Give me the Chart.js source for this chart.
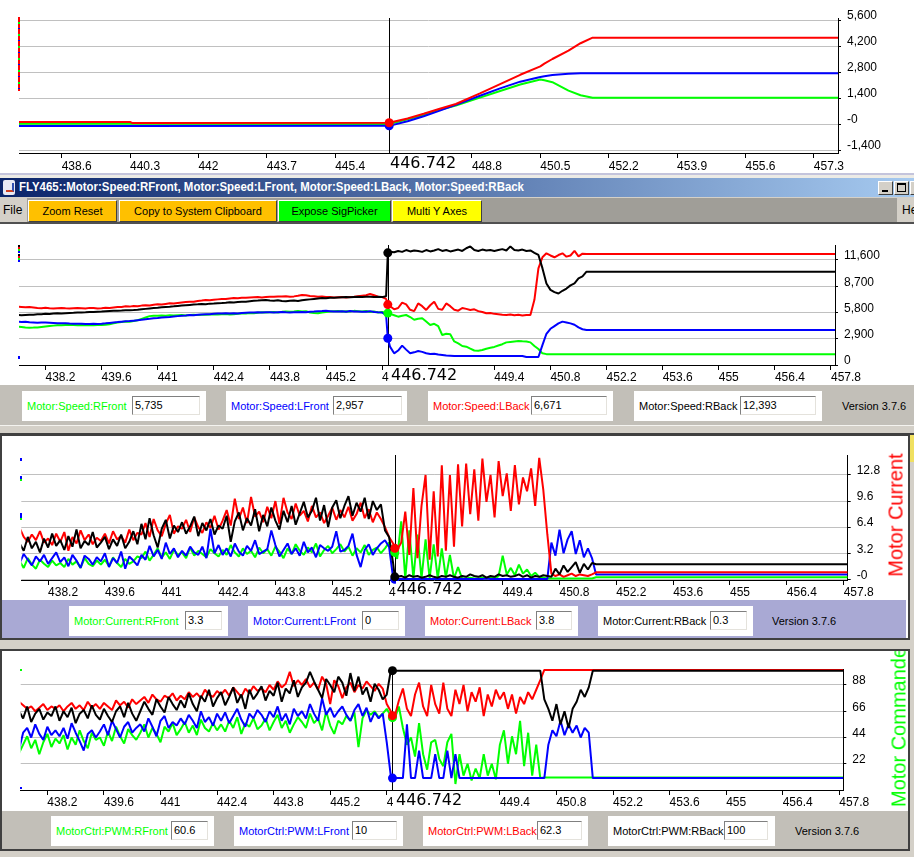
<!DOCTYPE html>
<html>
<head>
<meta charset="utf-8">
<title>FLY465 Motor</title>
<script src="https://cdn.jsdelivr.net/npm/chart.js@4.4.1/dist/chart.umd.min.js"></script>
<style>
  body { margin: 0; width: 914px; height: 857px; overflow: hidden; position: relative; background: #d4d0c8; font-family: "Liberation Sans", Arial, sans-serif; font-size: 11px; }
  .abs { position: absolute; }
  .panel { position: absolute; background: #fff; overflow: hidden; }
  .panel canvas { position: absolute; left: 0; top: 0; }
  .btn { position: absolute; top: 200px; height: 22px; box-sizing: border-box; border: 1px solid; border-color: #fff #404040 #404040 #fff; text-align: center; line-height: 20px; color: #000; white-space: nowrap; }
  .field { position: absolute; background: #fff; height: 30px; }
  .field .lbl { position: absolute; top: 0; line-height: 30px; white-space: nowrap; }
  .field .val { position: absolute; top: 5px; height: 19px; box-sizing: border-box; border: 1px solid; border-color: #808080 #e4e2dc #e4e2dc #808080; background: #fff; padding-left: 2px; line-height: 17px; color: #000; }
  .version { position: absolute; color: #000; white-space: nowrap; line-height: 14px; }
  .vtitle { position: absolute; font-size: 20px; white-space: nowrap; transform: translate(-50%, -50%) rotate(-90deg); }
  .winbtn { position: absolute; top: 181px; width: 15px; height: 14px; box-sizing: border-box; background: #d4d0c8; border: 1px solid; border-color: #fff #404040 #404040 #fff; }
  .mark { position: absolute; width: 2px; }
</style>
</head>
<body>

<!-- top chart -->
<div class="panel" style="left:0;top:0;width:914px;height:173px;"><canvas id="topChart" width="914" height="173"></canvas></div>
<div class="mark" style="left:18px;top:17px;height:74px;background:repeating-linear-gradient(#ff0000 0 5px,#00ff00 5px 7px,#ff0000 7px 11px,#0000ff 11px 12px);"></div>
<div class="abs" style="left:0;top:173px;width:914px;height:2px;background:#c4c4dc;"></div>
<div class="abs" style="left:0;top:175px;width:914px;height:3px;background:#ecebe6;"></div>

<!-- window title -->
<div class="abs" style="left:0;top:178px;width:914px;height:19px;background:linear-gradient(to right,#0a246a,#a6caf0);"></div>
<div class="abs" style="left:3px;top:180px;width:12px;height:15px;background:#e8eaf4;border-radius:2px;"></div>
<div class="abs" style="left:6px;top:183px;width:6px;height:7px;border-bottom:2px solid #d04020;border-right:2px solid #3050b0;"></div>
<div class="abs" id="winTitle" style="left:19px;top:180px;color:#fff;font-weight:bold;font-size:12px;line-height:15px;white-space:nowrap;transform-origin:left top;"></div>
<div class="winbtn" style="left:878px;"><div class="abs" style="left:3px;top:8px;width:6px;height:2px;background:#000;"></div></div>
<div class="winbtn" style="left:894px;"><div class="abs" style="left:2px;top:1px;width:7px;height:6px;border:1px solid #000;border-top-width:2px;"></div></div>
<div class="winbtn" style="left:910px;"></div>
<div class="abs" style="left:0;top:197px;width:914px;height:1px;background:#d4d0c8;"></div>

<!-- toolbar -->
<div class="abs" style="left:0;top:198px;width:914px;height:24px;background:#a09e98;"></div>
<div class="abs" style="left:0;top:198px;width:27px;height:24px;background:#d4d0c8;"></div>
<div class="abs" style="left:3px;top:203px;line-height:14px;font-size:12px;">File</div>
<div class="abs" style="left:897px;top:198px;width:17px;height:24px;background:#d4d0c8;"></div>
<div class="abs" style="left:902px;top:203px;line-height:14px;font-size:12px;">He</div>
<div id="toolbar"></div>
<div class="abs" style="left:0;top:222px;width:914px;height:2px;background:#505050;"></div>

<!-- speed chart -->
<div class="panel" style="left:0;top:224px;width:914px;height:161px;"><canvas id="speedChart" width="914" height="161"></canvas></div>
<div class="mark" style="left:18px;top:245px;height:17px;background:repeating-linear-gradient(#000 0 2px,#ff0000 2px 4px,#00ff00 4px 6px,#0000ff 6px 8px,#fff 8px 9px);"></div>
<div class="mark" style="left:18px;top:356px;height:3px;background:#0000ff;"></div>
<div class="abs" style="left:0;top:385px;width:914px;height:40px;background:#c2bfb8;"></div>
<div class="abs" style="left:0;top:425px;width:914px;height:1px;background:#f4f3ef;"></div>
<div class="abs" style="left:0;top:433px;width:914px;height:2px;background:#404040;"></div>

<!-- current chart -->
<div class="abs" style="left:0;top:435px;width:910px;height:205px;background:#404040;"></div>
<div class="panel" style="left:2px;top:436px;width:906px;height:164px;"><canvas id="currentChart" width="906" height="164"></canvas></div>
<div class="mark" style="left:20px;top:458px;height:3px;background:#0000ff;"></div>
<div class="mark" style="left:20px;top:476px;height:5px;background:linear-gradient(#0000ff 0 3px,#00ff00 3px 5px);"></div>
<div class="mark" style="left:20px;top:513px;height:7px;background:linear-gradient(#0000ff 0 5px,#00ff00 5px 7px);"></div>
<div class="abs" style="left:2px;top:600px;width:906px;height:38px;background:#fff;"></div>
<div class="abs" style="left:2px;top:600px;width:904px;height:38px;background:#a9a9d4;"></div>
<div class="abs" style="left:910px;top:435px;width:4px;height:27px;background:#f0e060;"></div>
<div class="vtitle" style="left:896px;top:515px;color:#ff0000;">Motor Current</div>

<!-- pwm chart -->
<div class="abs" style="left:0;top:649px;width:910px;height:202px;background:#404040;"></div>
<div class="panel" style="left:2px;top:651px;width:906px;height:160px;"><canvas id="pwmChart" width="906" height="160"></canvas>
  <div class="vtitle" style="left:897px;top:76px;color:#00ff00;">Motor Commande</div>
</div>
<div class="mark" style="left:20px;top:669px;height:2px;background:#00ff00;"></div>
<div class="mark" style="left:20px;top:787px;height:2px;background:#0000ff;"></div>
<div class="abs" style="left:2px;top:811px;width:906px;height:38px;background:#c2bfb8;"></div>

<div id="fields"></div>

<script>
// ===== Shared =====
const cursorTime = 446.742;
const endTime = 457.9;
const xMin = 437.54;
const xMax = 457.9;
const sampleStart = 437.5;   // first logged sample
const sampleStep = 0.1;      // logger sample period

const xTicksTop = [438.6, 440.3, 442, 443.7, 445.4, 447.1, 448.8, 450.5, 452.2, 453.9, 455.6, 457.3];
const xTicksLower = [438.2, 439.6, 441, 442.4, 443.8, 445.2, 446.6, 448, 449.4, 450.8, 452.2, 453.6, 455, 456.4, 457.8];

const seriesColors = ['#00ff00', '#0000ff', '#ff0000', '#000000']; // RFront, LFront, LBack, RBack

// ===== Top chart =====
const topTimes = [437.5, 440.3, 440.35, 446.742, 447.2, 447.6, 448.0, 448.4, 449.0, 449.5, 450.0, 450.5, 450.6, 450.8, 451.2, 451.5, 451.8, 457.9];
const topRed   = [110, 110, 60, 70, 300, 550, 820, 1077, 1650, 2150, 2650, 3100, 3250, 3500, 3950, 4350, 4650, 4650];
const topBlue  = [-110, -110, -110, -100, 150, 420, 720, 1030, 1520, 1920, 2280, 2530, 2570, 2640, 2700, 2730, 2730, 2730];
const topGreen = [10, 10, 10, 0, 250, 480, 760, 1000, 1420, 1780, 2130, 2400, 2360, 2250, 1800, 1550, 1415, 1415];
const topCursor = [0, -100, 70]; // green, blue, red
const topYTicks = [-1400, 0, 1400, 2800, 4200, 5600];
const topYLabels = ['-1,400', '-0', '1,400', '2,800', '4,200', '5,600'];

// ===== Motor speed =====
const speedNames = ['Motor:Speed:RFront', 'Motor:Speed:LFront', 'Motor:Speed:LBack', 'Motor:Speed:RBack'];
const speedCursor = [5735, 2957, 6671, 12393];
const speedYTicks = [0, 2900, 5800, 8700, 11600];
const speedYLabels = ['0', '2,900', '5,800', '8,700', '11,600'];
const speedRFront = [
  4235, 4200, 4150, 4125, 4130, 4150, 4200, 4250, 4300, 4350,
  4380, 4400, 4420, 4410, 4430, 4400, 4420, 4380, 4420, 4400,
  4420, 4430, 4450, 4500, 4600, 4700, 4750, 4800, 4790, 4850,
  4950, 5100, 5250, 5400, 5450, 5430, 5470, 5450, 5500, 5480,
  5500, 5520, 5480, 5525, 5550, 5520, 5560, 5540, 5580, 5600,
  5580, 5600, 5620, 5580, 5600, 5650, 5680, 5700, 5750, 5720,
  5780, 5820, 5800, 5830, 5850, 5800, 5870, 5900, 5880, 5920,
  5970, 5900, 5950, 5800, 5750, 5710, 5800, 5850, 5900, 5950,
  5970, 5900, 5950, 5920, 5980, 5950, 5900, 5970, 5850, 5900,
  5800, 5850, 5750, 5650, 5500, 5340, 5450, 5525, 5300, 5000,
  5100, 5160, 4800, 4420, 4550, 4300, 3315, 3450, 3400, 2600,
  2390, 2100, 2025, 1800, 1600, 1585, 1650, 1800, 1915, 2000,
  2150, 2300, 2500, 2550, 2600, 2650, 2620, 2600, 2500, 2100,
  1770, 1290, 1200, 1180, 1180, 1180, 1180, 1180, 1180, 1180,
  1180, 1180, 1180, 1180
];
const speedLFront = [
  4790, 4750, 4780, 4720, 4700, 4680, 4700, 4690, 4680, 4650,
  4620, 4600, 4610, 4580, 4560, 4550, 4570, 4540, 4530, 4550,
  4530, 4560, 4600, 4650, 4700, 4740, 4790, 4820, 4850, 4900,
  4950, 5000, 5050, 5100, 5160, 5200, 5250, 5280, 5300, 5350,
  5400, 5450, 5480, 5525, 5500, 5550, 5580, 5600, 5620, 5650,
  5680, 5700, 5710, 5690, 5720, 5700, 5750, 5780, 5800, 5790,
  5820, 5800, 5840, 5820, 5800, 5830, 5860, 5820, 5800, 5820,
  5820, 5850, 5830, 5870, 5900, 5950, 5970, 6000, 5950, 5900,
  5920, 5950, 5890, 5970, 5920, 5900, 5880, 5890, 5950, 5850,
  5820, 5800, 5500, 2000, 1290, 1600, 2137, 1700, 1290, 1400,
  1547, 1450, 1300, 1215, 1250, 1150, 1100, 1050, 1032, 995,
  995, 995, 995, 995, 995, 995, 995, 995, 995, 995,
  995, 995, 995, 995, 995, 995, 990, 885, 885, 885,
  885, 2200, 3450, 4000, 4300, 4600, 4790, 4700, 4600, 4450,
  4150, 3950, 3870, 3870
];
const speedLBack = [
  6450, 6420, 6380, 6400, 6350, 6300, 6280, 6320, 6260, 6250,
  6280, 6300, 6260, 6230, 6270, 6300, 6280, 6250, 6310, 6290,
  6250, 6280, 6320, 6300, 6350, 6400, 6420, 6480, 6450, 6520,
  6500, 6560, 6600, 6580, 6650, 6700, 6680, 6750, 6820, 6800,
  6850, 6900, 6950, 7000, 6980, 7080, 7120, 7180, 7150, 7200,
  7250, 7300, 7280, 7350, 7400, 7380, 7440, 7420, 7450, 7480,
  7500, 7470, 7520, 7550, 7530, 7580, 7560, 7600, 7550, 7580,
  7650, 7730, 7700, 7620, 7600, 7550, 7580, 7520, 7500, 7450,
  7480, 7500, 7460, 7520, 7550, 7600, 7650, 7700, 7840, 7700,
  7550, 7500, 7300, 6500, 6150, 6300, 6900, 6700, 6100, 5950,
  6800, 6500, 6080, 6600, 6990, 6200, 6100, 6800, 6500, 6100,
  6000, 6300, 6200, 6080, 6150, 5950, 5850, 5710, 5750, 5650,
  5600, 5550, 5520, 5580, 5500, 5550, 5480, 5530, 5520, 7200,
  10680, 11900, 12340, 12100, 11900, 12150, 12340, 11970, 12100, 12600,
  12000, 12300, 12265, 12265
];
const speedRBack = [
  5525, 5500, 5520, 5540, 5560, 5600, 5620, 5650, 5640, 5680,
  5710, 5700, 5730, 5750, 5760, 5790, 5800, 5820, 5850, 5860,
  5893, 5900, 5930, 5960, 5980, 6000, 6020, 6050, 6060, 6077,
  6100, 6150, 6200, 6250, 6300, 6330, 6380, 6420, 6445, 6480,
  6520, 6560, 6600, 6640, 6680, 6700, 6740, 6720, 6780, 6800,
  6830, 6850, 6880, 6925, 6900, 6950, 6980, 7000, 7050, 7100,
  7120, 7150, 7180, 7130, 7100, 7150, 7080, 7050, 7100, 7120,
  7070, 7150, 7200, 7250, 7300, 7350, 7400, 7380, 7440, 7420,
  7450, 7480, 7500, 7480, 7520, 7550, 7500, 7540, 7550, 7520,
  7550, 7500, 7600, 12500, 12450, 12600, 12500, 12700, 12550, 12650,
  12600, 12500, 12700, 12550, 12650, 12800, 12600, 12700, 12550, 12650,
  12750, 12600, 12900, 13100, 12700, 12600, 12750, 12650, 12700, 12600,
  12700, 12800, 12650, 13100, 12700, 12650, 12750, 12600, 12650, 12400,
  12155, 10700, 9000, 8300, 8050, 7900, 8200, 8450, 8800, 9020,
  9580, 9800, 10310, 10310
];

// ===== Motor current =====
const currentNames = ['Motor:Current:RFront', 'Motor:Current:LFront', 'Motor:Current:LBack', 'Motor:Current:RBack'];
const currentCursor = [3.3, 0, 3.8, 0.3];
const currentYTicks = [0, 3.2, 6.4, 9.6, 12.8];
const currentYLabels = ['-0', '3.2', '6.4', '9.6', '12.8'];
const currentRFront = [
  2.2, 1.4, 2.6, 1.8, 1.3, 2.4, 1.9, 1.5, 2.3, 1.7,
  2.0, 1.5, 2.5, 1.8, 2.2, 1.4, 2.6, 1.9, 1.6, 2.3,
  1.8, 2.4, 1.6, 2.7, 2.0, 1.5, 2.5, 1.9, 2.2, 2.8,
  2.6, 3.4, 2.3, 3.0, 3.8, 2.7, 3.3, 2.5, 3.6, 3.0,
  3.3, 2.6, 3.9, 2.9, 3.5, 3.1, 2.7, 3.7, 3.2, 2.8,
  3.6, 3.0, 4.2, 3.3, 2.8, 3.8, 3.1, 3.5, 2.7, 3.9,
  3.2, 3.7, 2.9, 4.0, 3.4, 2.6, 3.8, 3.1, 4.3, 3.5,
  3.0, 3.9, 3.3, 4.4, 2.8, 3.6, 4.1, 3.2, 3.7, 4.3,
  3.4, 4.0, 2.9, 3.8, 3.3, 4.2, 3.0, 3.6, 3.9, 3.2,
  3.8, 4.5, 3.5, 2.5, 7.1, 0.1, 6.0, 0.1, 5.5, 0.1,
  4.9, 0.1, 4.3, 0.1, 3.8, 0.2, 3.0, 0.1, 1.5, 0.1,
  0.1, 0.2, 0.1, 0.1, 0.2, 0.1, 0.3, 0.1, 0.4, 2.9,
  0.6, 1.4, 0.5, 1.8, 0.7, 1.2, 0.4, 0.8, 0.3, 0.2,
  0.1, 0.1, 0.1, 0.1, 0.1, 0.1, 0.1, 0.1, 0.1, 0.1,
  0.1, 0.1, 0.25, 0.25
];
const currentLFront = [
  2.0, 3.1, 2.4, 1.7, 2.8, 2.2, 3.0, 1.9, 2.6, 3.3,
  2.1, 2.7, 1.6, 3.0, 2.3, 1.4, 2.9, 2.5, 1.8, 2.7,
  2.2, 3.2, 1.5, 2.6, 2.0, 3.4, 1.3, 2.8, 2.3, 1.7,
  3.0, 2.4, 4.1, 2.8, 3.6, 2.5, 4.5, 3.1, 3.8, 2.7,
  3.5, 2.9, 4.0, 3.3, 3.0, 4.0, 2.6, 6.2, 3.2, 4.2,
  3.0, 3.8, 2.8, 4.4, 3.4, 2.9, 4.1, 3.5, 4.8, 3.1,
  3.4, 3.7, 6.0, 4.2, 2.8, 3.6, 4.4, 3.1, 3.8, 2.9,
  4.6, 3.3, 3.9, 2.7, 4.2, 3.8, 3.5, 4.0, 5.9, 3.4,
  3.6, 4.1, 5.6, 3.0, 1.5, 3.6, 4.3, 3.0, 3.8, 4.4,
  4.8, 4.0, 0.2, 0.05, 0.05, 0.05, 0.05, 0.05, 0.05, 0.05,
  0.05, 0.05, 0.05, 0.05, 0.05, 0.05, 0.05, 0.05, 0.05, 0.05,
  0.05, 0.05, 0.05, 0.05, 0.05, 0.1, 0.05, 0.05, 0.05, 0.05,
  0.05, 0.05, 0.05, 0.05, 0.05, 0.05, 0.05, 0.05, 0.05, 0.05,
  0.05, 4.5, 2.9, 6.1, 3.2, 4.9, 5.9, 3.1, 4.8, 2.7,
  3.8, 2.6, 0.6, 0.6
];
const currentLBack = [
  6.3, 5.2, 4.6, 5.5, 4.8, 5.9, 4.5, 5.0, 4.2, 5.6,
  4.6, 5.8, 3.5, 5.2, 4.4, 6.0, 4.8, 5.5, 4.3, 5.1,
  4.7, 5.6, 4.4, 5.9, 4.9, 5.3, 4.5, 6.1, 4.8, 5.7,
  5.5, 6.9, 5.2, 7.4, 6.0, 5.3, 6.8, 7.9, 5.6, 6.5,
  6.2, 7.3, 5.8, 7.6, 6.4, 5.7, 7.0, 6.3, 7.8, 6.1,
  7.2, 8.5, 6.6, 9.9, 7.4, 8.8, 6.9, 10.1, 7.7, 8.3,
  7.0, 8.9, 7.5, 9.6, 6.8, 10.0, 8.2, 7.4, 9.3, 7.8,
  8.4, 7.1, 9.0, 7.6, 8.2, 6.9, 7.8, 8.8, 7.3, 8.5,
  7.6, 8.9, 7.2, 8.0, 9.4, 7.5, 8.6, 7.0, 8.2, 7.4,
  6.4, 5.2, 4.4, 3.6, 4.5, 8.3, 3.0, 11.2, 2.6, 9.0,
  12.8, 2.4, 10.8, 2.8, 14.0, 3.5, 12.8, 4.0, 14.1, 6.5,
  14.2, 8.0, 13.5, 7.2, 14.8, 9.5, 12.8, 7.6, 14.5, 10.2,
  13.0, 8.4, 14.0, 9.2, 12.5, 10.8, 13.6, 9.0, 14.9, 11.0,
  5.5, 0.7, 0.4, 0.6, 0.3, 0.5, 0.7, 0.4, 0.6, 0.5,
  0.4, 0.6, 0.86, 0.86
];
const currentRBack = [
  4.4, 3.5, 5.2, 3.8, 4.6, 3.3, 5.0, 3.9, 5.6, 4.1,
  4.8, 3.6, 5.3, 4.0, 6.1, 3.8, 4.7, 4.2, 5.8, 3.9,
  4.5, 5.2, 3.7, 4.9, 4.1, 5.5, 3.8, 4.6, 5.9, 4.3,
  6.8, 4.9, 7.5, 5.4, 3.9, 6.2, 7.3, 5.0, 6.6, 5.8,
  7.0, 5.6, 6.5, 7.7, 5.3, 6.9, 6.0, 7.4, 5.5, 6.6,
  6.2, 7.8, 4.6, 7.1, 8.2, 6.0, 7.5, 6.6, 8.6, 5.9,
  7.9, 6.5, 8.8, 7.2, 6.1, 8.4, 7.0, 9.0, 6.7, 8.1,
  9.5, 7.6, 8.4, 10.0, 7.2, 9.1, 6.4, 8.8, 9.7, 7.5,
  9.0, 10.2, 7.8, 9.4, 8.3, 10.0, 7.4, 9.6, 8.5, 9.2,
  6.0, 5.2, 2.0, 0.3, 0.4, 0.2, 0.5, 0.3, 0.4, 0.2,
  0.3, 0.5, 0.3, 0.2, 0.4, 0.3, 0.5, 0.3, 0.2, 0.4,
  0.3, 0.6, 0.4, 0.3, 0.5, 0.2, 0.4, 0.3, 0.6, 0.4,
  0.5, 0.3, 0.4, 0.6, 0.3, 0.5, 0.2, 0.4, 0.3, 0.5,
  0.4, 0.3, 1.3, 0.6, 1.7, 0.9, 1.5, 2.1, 0.8, 1.9,
  1.2, 2.0, 1.85, 1.85
];

// ===== Motor PWM =====
const pwmNames = ['MotorCtrl:PWM:RFront', 'MotorCtrl:PWM:LFront', 'MotorCtrl:PWM:LBack', 'MotorCtrl:PWM:RBack'];
const pwmCursor = [60.6, 10, 62.3, 100];
const pwmYTicks = [22, 44, 66, 88];
const pwmYLabels = ['22', '44', '66', '88'];
const pwmRFront = [
  31, 38, 45, 35, 42, 30, 40, 47, 36, 43,
  39, 46, 34, 44, 38, 50, 41, 35, 48, 42,
  44, 37, 49, 41, 53, 45, 39, 51, 46, 42,
  48, 55, 44, 52, 47, 40, 53, 49, 56, 46,
  51, 57, 48, 54, 46, 59, 52, 49, 56, 50,
  55, 49, 58, 52, 61, 47, 56, 53, 60, 51,
  54, 60, 50, 57, 63, 52, 58, 48, 55, 61,
  57, 52, 64, 56, 60, 50, 66, 54, 47, 58,
  55, 62, 58, 65, 36, 60, 67, 63, 66, 61,
  64, 68, 62, 60, 70, 52, 38, 44, 28, 56,
  30, 17, 40, 42, 26, 20, 40, 47, 5, 30,
  12, 22, 8, 18, 10, 30, 12, 22, 9, 38,
  50, 22, 45, 30, 58, 20, 48, 12, 38, 10,
  10.4, 10.4, 10.4, 10.4, 10.4, 10.4, 10.4, 10.4, 10.4, 10.4,
  10.4, 10.4, 10.4, 10.4
];
const pwmLFront = [
  34, 48, 52, 44, 55, 47, 42, 53, 46, 50,
  45, 52, 43, 56, 48, 41, 33, 47, 50, 44,
  49, 55, 46, 58, 51, 44, 53, 57, 48, 52,
  55, 49, 60, 53, 45, 58, 62, 52, 57, 54,
  60, 55, 63, 58, 52, 66, 57, 61, 54, 64,
  58, 65, 56, 62, 68, 59, 53, 64, 60, 67,
  63, 57, 66, 61, 70, 58, 64, 55, 68, 62,
  66, 60, 72, 64, 58, 77, 63, 69, 61, 66,
  70, 63, 58, 67, 72, 62, 69, 57, 65, 60,
  64, 40, 12, 10, 10, 10, 55, 10, 10, 33,
  10, 10, 10, 30, 10, 10, 33, 10, 30, 10,
  10, 10, 10, 10, 10, 10, 10, 10, 10, 10,
  10, 10, 10, 10, 10, 10, 10, 10, 10, 10,
  10, 38, 50, 45, 58, 46, 55, 48, 54, 44,
  52, 48, 10, 10
];
const pwmLBack = [
  74, 71, 68, 70, 66, 69, 72, 67, 70, 68,
  71, 66, 70, 73, 68, 71, 67, 74, 69, 72,
  68, 73, 70, 67, 75, 71, 74, 69, 76, 72,
  75, 78, 73, 80, 76, 74, 79, 77, 81, 75,
  79, 76, 82, 78, 81, 77, 84, 80, 78, 83,
  80, 84, 79, 86, 82, 78, 85, 81, 87, 83,
  85, 82, 88, 84, 91, 86, 89, 99, 87, 92,
  88, 93, 86, 90, 84, 95, 89, 72, 92, 87,
  77, 86, 90, 82, 88, 85, 91, 87, 83, 89,
  85, 72, 66, 62, 75, 85, 68, 62, 80, 90,
  70, 62, 88, 72, 64, 90, 68, 62, 84, 72,
  88, 66, 82, 74, 86, 62, 80, 70, 84, 76,
  82, 68, 80, 64, 78, 72, 82, 76, 84, 92,
  100.6, 100.6, 100.6, 100.6, 100.6, 100.6, 100.6, 100.6, 100.6, 100.6,
  100.6, 100.6, 100.6, 100.6
];
const pwmRBack = [
  66, 60, 70, 57, 64, 68, 59, 65, 62, 70,
  58, 66, 61, 69, 56, 64, 67, 60, 71, 63,
  59, 68, 62, 57, 66, 70, 61, 73, 64, 58,
  66, 74, 68, 63, 76, 70, 65, 78, 72, 67,
  75, 69, 81, 72, 66, 79, 74, 84, 70, 77,
  82, 71, 78, 86, 73, 80, 68, 84, 76, 81,
  87, 75, 83, 79, 90, 74, 85, 81, 92, 78,
  86, 90, 99, 91, 84, 77, 93, 88, 82, 95,
  90, 79, 98, 83, 95, 80, 86, 74, 89, 84,
  76, 80, 100, 100, 100, 100, 100, 100, 100, 100,
  100, 100, 100, 100, 100, 100, 100, 100, 100, 100,
  100, 100, 100, 100, 100, 100, 100, 100, 100, 100,
  100, 100, 100, 100, 100, 100, 100, 100, 100, 100,
  76, 68, 58, 72, 55, 66, 52, 68, 74, 84,
  78, 86, 100, 100
];

// ===== UI text =====
const windowTitle = 'FLY465::Motor:Speed:RFront, Motor:Speed:LFront, Motor:Speed:LBack, Motor:Speed:RBack';
const toolbarButtons = [
  ['Zoom Reset', 28, 89, '#ffc000'],
  ['Copy to System Clipboard', 119, 158, '#ffc000'],
  ['Expose SigPicker', 278, 113, '#00ff00'],
  ['Multi Y Axes', 392, 90, '#ffff00']
];
const versionText = 'Version 3.7.6';

// ===== Helpers =====
function sampled(vals, cursorVal) {
  const pts = vals.map((v, i) => ({ x: +(sampleStart + i * sampleStep).toFixed(2), y: v }));
  pts.push({ x: cursorTime, y: cursorVal });
  pts.push({ x: endTime, y: vals[vals.length - 1] });
  return pts.sort((a, b) => a.x - b.x);
}

function paired(times, vals) {
  return times.map((t, i) => ({ x: t, y: vals[i] }));
}

const tickFont = { family: '"Liberation Sans", Arial, sans-serif', size: 12 };

// cursor line + big time readout on the x axis
const cursorPlugin = {
  id: 'cursor',
  beforeDatasetsDraw(chart, args, opts) {
    const { ctx, chartArea, scales } = chart;
    const px = Math.round(scales.x.getPixelForValue(opts.at)) + 0.5;
    ctx.save();
    ctx.strokeStyle = '#000';
    ctx.lineWidth = 1;
    ctx.beginPath();
    ctx.moveTo(px, chartArea.top);
    ctx.lineTo(px, chartArea.bottom);
    ctx.stroke();
    ctx.restore();
  },
  afterDraw(chart, args, opts) {
    const { ctx, chartArea, scales } = chart;
    const px = Math.round(scales.x.getPixelForValue(opts.at));
    const text = opts.at.toFixed(3);
    ctx.save();
    ctx.font = '16px "DejaVu Sans"';
    const w = ctx.measureText(text).width;
    ctx.fillStyle = '#fff';
    ctx.fillRect(px + 1, chartArea.bottom + 1, w + opts.dx + 3, 19);
    ctx.fillStyle = '#000';
    ctx.textBaseline = 'alphabetic';
    ctx.fillText(text, px + opts.dx, chartArea.bottom + opts.dy);
    ctx.restore();
  }
};

function makeChart(id, p) {
  const datasets = [];
  // cursor dots, red last so it sits on top
  const dotOrder = [0, 1, 3, 2].filter(i => i < p.cursorVals.length);
  datasets.push({
    data: dotOrder.map(i => ({ x: cursorTime, y: p.cursorVals[i] })),
    showLine: false,
    pointRadius: 4.5,
    pointBackgroundColor: dotOrder.map(i => p.dotColors[i]),
    pointBorderWidth: 0,
    clip: false
  });
  p.series.forEach(s => datasets.push({
    data: s.data,
    borderColor: s.color,
    borderWidth: 2,
    borderJoinStyle: 'bevel',
    pointRadius: 0,
    tension: 0,
    fill: false
  }));

  return new Chart(document.getElementById(id), {
    type: 'line',
    data: { datasets },
    options: {
      responsive: false,
      animation: false,
      events: [],
      parsing: false,
      layout: { padding: { left: p.left, top: p.top, right: 0, bottom: 0 } },
      plugins: {
        legend: { display: false },
        tooltip: { enabled: false },
        cursor: { at: cursorTime, dx: p.labelDx, dy: p.labelDy }
      },
      scales: {
        x: {
          type: 'linear', min: xMin, max: xMax, bounds: 'data',
          afterBuildTicks: s => { s.ticks = p.xTicks.map(v => ({ value: v })); },
          afterFit: s => { s.height = p.xh; },
          ticks: { autoSkip: false, maxRotation: 0, align: 'start', padding: p.xPad, color: '#000', font: tickFont,
                   callback: v => String(+v.toFixed(1)) },
          grid: { drawOnChartArea: false, drawTicks: true, tickLength: 5, tickColor: '#000' },
          border: { display: true, color: '#000', width: 1 }
        },
        y: {
          type: 'linear', position: 'right', min: p.yMin, max: p.yMax, bounds: 'data',
          afterBuildTicks: s => { s.ticks = p.yTicks.map(v => ({ value: v })); },
          afterFit: s => { s.width = p.yw; },
          ticks: { padding: 6, labelOffset: -4, color: '#000', font: tickFont,
                   callback: (v, i) => p.yLabels[i] },
          grid: { color: '#c0c0c0', lineWidth: 1, drawTicks: true, tickLength: 3, tickColor: '#000' },
          border: { display: true, color: '#000', width: 1 }
        }
      }
    },
    plugins: [cursorPlugin]
  });
}

function fourSeries(vals, cursorVals) {
  // draw order: RBack on top, then LBack, LFront, RFront
  return [3, 2, 1, 0].map(i => ({ data: sampled(vals[i], cursorVals[i]), color: seriesColors[i] }));
}

// ===== Build charts =====
makeChart('topChart', {
  left: 19, top: 18, xh: 20, yw: 76, xPad: 1, labelDx: 1, labelDy: 14.5,
  xTicks: xTicksTop, yMin: -1561, yMax: 5708, yTicks: topYTicks, yLabels: topYLabels,
  cursorVals: topCursor, dotColors: ['#00ff00', '#0000ff', '#ff0000'],
  series: [
    { data: paired(topTimes, topRed), color: '#ff0000' },
    { data: paired(topTimes, topBlue), color: '#0000ff' },
    { data: paired(topTimes, topGreen), color: '#00ff00' }
  ]
});

makeChart('speedChart', {
  left: 19, top: 21, xh: 20, yw: 79, xPad: 0, labelDx: 3, labelDy: 15,
  xTicks: xTicksLower, yMin: 0, yMax: 13257, yTicks: speedYTicks, yLabels: speedYLabels,
  cursorVals: speedCursor, dotColors: seriesColors,
  series: fourSeries([speedRFront, speedLFront, speedLBack, speedRBack], speedCursor)
});

makeChart('currentChart', {
  left: 19.3, top: 19, xh: 20, yw: 60.3, xPad: 0, labelDx: 1.5, labelDy: 13.5,
  xTicks: xTicksLower, yMin: -0.086, yMax: 15.25, yTicks: currentYTicks, yLabels: currentYLabels,
  cursorVals: currentCursor, dotColors: seriesColors,
  series: fourSeries([currentRFront, currentLFront, currentLBack, currentRBack], currentCursor)
});

makeChart('pwmChart', {
  left: 18.7, top: 18, xh: 21, yw: 64.7, xPad: 0, labelDx: 4, labelDy: 15,
  xTicks: xTicksLower, yMin: 0, yMax: 101.4, yTicks: pwmYTicks, yLabels: pwmYLabels,
  cursorVals: pwmCursor, dotColors: seriesColors,
  series: fourSeries([pwmRFront, pwmLFront, pwmLBack, pwmRBack], pwmCursor)
});

// ===== Window chrome =====
const titleEl = document.getElementById('winTitle');
titleEl.textContent = windowTitle;
titleEl.style.transform = 'scaleX(' + (505 / titleEl.getBoundingClientRect().width) + ')';

const toolbar = document.getElementById('toolbar');
toolbarButtons.forEach(([text, left, width, color]) => {
  const b = document.createElement('div');
  b.className = 'btn';
  b.textContent = text;
  b.style.left = left + 'px';
  b.style.width = width + 'px';
  b.style.background = color;
  toolbar.appendChild(b);
});

// ===== Readout rows =====
// [boxLeft, boxRight, inputLeft, inputRight]
const rows = [
  { top: 390.5, names: speedNames, vals: speedCursor.map(v => v.toLocaleString('en-US')),
    boxes: [[22, 206, 132, 200], [226, 407, 333, 402], [428, 613, 531, 607], [634, 822, 740, 816]], version: 842 },
  { top: 606, names: currentNames, vals: currentCursor.map(v => String(v)),
    boxes: [[69, 228, 185, 222], [248, 405, 362, 399], [425, 578, 536, 572], [598, 753, 710, 747]], version: 772 },
  { top: 816, names: pwmNames, vals: pwmCursor.map(v => String(v)),
    boxes: [[51, 214, 171, 208], [234, 403, 352, 397], [423, 588, 537, 582], [608, 775, 724, 768]], version: 795 }
];

const fields = document.getElementById('fields');
rows.forEach(r => {
  r.boxes.forEach(([bl, br, il, ir], i) => {
    const box = document.createElement('div');
    box.className = 'field';
    box.style.left = bl + 'px';
    box.style.top = r.top + 'px';
    box.style.width = (br - bl) + 'px';
    const lbl = document.createElement('div');
    lbl.className = 'lbl';
    lbl.style.left = '5px';
    lbl.style.color = seriesColors[i];
    lbl.textContent = r.names[i];
    const val = document.createElement('div');
    val.className = 'val';
    val.style.left = (il - bl) + 'px';
    val.style.width = (ir - il) + 'px';
    val.textContent = r.vals[i];
    box.appendChild(lbl);
    box.appendChild(val);
    fields.appendChild(box);
  });
  const ver = document.createElement('div');
  ver.className = 'version';
  ver.style.left = r.version + 'px';
  ver.style.top = (r.top + 8) + 'px';
  ver.textContent = versionText;
  fields.appendChild(ver);
});
</script>
</body>
</html>
